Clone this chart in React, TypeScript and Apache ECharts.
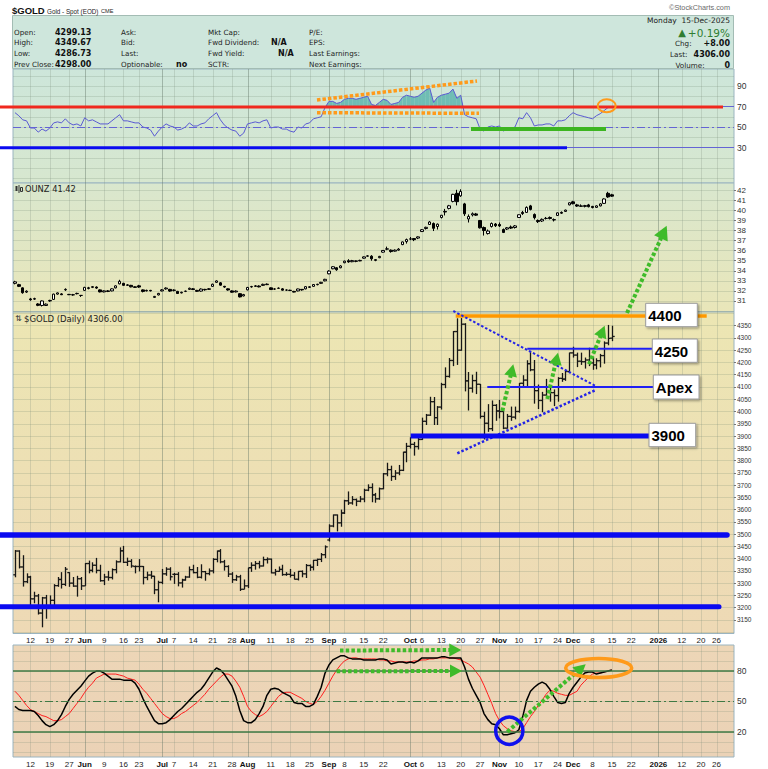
import React, { useEffect, useRef } from "react";
import * as echarts from "echarts";

// ---------- calendar (trading sessions) ----------
const firstSession = "2025-05-06";
const lastSession = "2026-01-30";
const marketHolidays = ["2025-05-26", "2025-06-19", "2025-07-04", "2025-09-01", "2025-11-27", "2025-12-25", "2026-01-01", "2026-01-19"];

function buildSessions(): string[] {
  const out: string[] = [];
  const d = new Date(firstSession + "T00:00:00Z");
  const end = new Date(lastSession + "T00:00:00Z");
  while (d <= end) {
    const wd = d.getUTCDay();
    const s = d.toISOString().slice(0, 10);
    if (wd !== 0 && wd !== 6 && !marketHolidays.includes(s)) out.push(s);
    d.setUTCDate(d.getUTCDate() + 1);
  }
  return out;
}
const sessions = buildSessions();

// ---------- tick labels ----------
const weekTicks: [string, string][] = [
  ["2025-05-12", "12"], ["2025-05-19", "19"], ["2025-05-27", "27"], ["2025-06-09", "9"], ["2025-06-16", "16"], ["2025-06-23", "23"],
  ["2025-07-07", "7"], ["2025-07-14", "14"], ["2025-07-21", "21"], ["2025-07-28", "28"], ["2025-08-11", "11"], ["2025-08-18", "18"],
  ["2025-08-25", "25"], ["2025-09-08", "8"], ["2025-09-15", "15"], ["2025-09-22", "22"], ["2025-10-06", "6"], ["2025-10-13", "13"],
  ["2025-10-20", "20"], ["2025-10-27", "27"], ["2025-11-10", "10"], ["2025-11-17", "17"], ["2025-11-24", "24"], ["2025-12-08", "8"],
  ["2025-12-15", "15"], ["2025-12-22", "22"], ["2026-01-12", "12"], ["2026-01-20", "20"], ["2026-01-26", "26"],
];
const monthTicks: [string, string][] = [
  ["2025-06-02", "Jun"], ["2025-07-01", "Jul"], ["2025-08-01", "Aug"], ["2025-09-02", "Sep"],
  ["2025-10-01", "Oct"], ["2025-11-03", "Nov"], ["2025-12-01", "Dec"], ["2026-01-02", "2026"],
];
const rsiTickLabels = [30, 50, 70, 90];
const stochTickLabels = [20, 50, 80];

// ---------- $GOLD daily OHLC ----------
const goldOpen = [
  3334, 3431, 3366, 3306, 3325, 3236, 3248, 3178, 3240, 3202,
  3230, 3290, 3315, 3295, 3343, 3300, 3288, 3318, 3289, 3380,
  3352, 3373, 3352, 3310, 3325, 3323, 3355, 3387, 3432, 3385,
  3389, 3368, 3368, 3368, 3323, 3333, 3328, 3273, 3303, 3338,
  3357, 3336, 3336, 3301, 3313, 3325, 3355, 3343, 3324, 3347,
  3339, 3350, 3397, 3431, 3387, 3368, 3337, 3314, 3326, 3275,
  3289, 3363, 3373, 3380, 3370, 3396, 3398, 3342, 3348, 3356,
  3335, 3336, 3332, 3316, 3348, 3338, 3372, 3365, 3393, 3397,
  3416, 3476, 3533, 3578, 3546, 3586, 3636, 3627, 3641, 3634,
  3643, 3679, 3690, 3660, 3644, 3685, 3746, 3763, 3735, 3749,
  3760, 3834, 3858, 3866, 3857, 3886, 3960, 3985, 4040, 3975,
  4018, 4110, 4143, 4208, 4326, 4250, 4356, 4125, 4095, 4126,
  4111, 3980, 3952, 3930, 4025, 4002, 4000, 3932, 3980, 3977,
  4000, 4115, 4128, 4195, 4170, 4085, 4045, 4067, 4078, 4077,
  4065, 4135, 4132, 4163, 4239, 4230, 4205, 4203, 4210, 4198,
  4190, 4207, 4228, 4279, 4299.13,
];
const goldHigh = [
  3435, 3434, 3414, 3340, 3330, 3265, 3256, 3244, 3252, 3250,
  3296, 3325, 3345, 3366, 3345, 3325, 3330, 3325, 3382, 3392,
  3385, 3403, 3375, 3338, 3350, 3360, 3393, 3446, 3452, 3404,
  3398, 3372, 3398, 3370, 3347, 3350, 3330, 3310, 3358, 3365,
  3365, 3342, 3345, 3318, 3330, 3368, 3375, 3366, 3377, 3350,
  3360, 3402, 3433, 3439, 3395, 3373, 3345, 3334, 3334, 3315,
  3363, 3385, 3390, 3391, 3408, 3405, 3400, 3358, 3368, 3375,
  3345, 3358, 3345, 3350, 3352, 3378, 3376, 3395, 3400, 3423,
  3454, 3540, 3580, 3580, 3600, 3640, 3674, 3655, 3645, 3655,
  3685, 3703, 3707, 3668, 3690, 3749, 3791, 3779, 3761, 3782,
  3836, 3872, 3895, 3876, 3895, 3975, 3990, 4060, 4059, 4022,
  4117, 4180, 4218, 4328, 4380, 4381, 4360, 4161, 4150, 4162,
  4112, 3999, 4030, 4045, 4030, 4047, 4010, 3990, 4020, 4020,
  4116, 4148, 4209, 4245, 4210, 4110, 4080, 4133, 4100, 4090,
  4140, 4157, 4170, 4240, 4264, 4240, 4240, 4220, 4260, 4222,
  4217, 4235, 4286, 4353, 4349.67,
];
const goldLow = [
  3324, 3360, 3286, 3300, 3208, 3218, 3172, 3120, 3155, 3200,
  3208, 3285, 3278, 3288, 3285, 3285, 3245, 3272, 3289, 3340,
  3344, 3340, 3306, 3292, 3310, 3315, 3340, 3385, 3382, 3370,
  3363, 3340, 3348, 3295, 3312, 3318, 3255, 3222, 3296, 3330,
  3311, 3297, 3287, 3282, 3310, 3322, 3340, 3320, 3319, 3310,
  3332, 3340, 3385, 3381, 3351, 3325, 3301, 3309, 3268, 3275,
  3280, 3346, 3355, 3360, 3368, 3380, 3340, 3331, 3346, 3330,
  3330, 3323, 3315, 3311, 3324, 3321, 3350, 3352, 3370, 3386,
  3402, 3470, 3528, 3511, 3530, 3582, 3619, 3620, 3614, 3630,
  3630, 3675, 3630, 3628, 3640, 3683, 3736, 3717, 3721, 3740,
  3757, 3793, 3849, 3820, 3845, 3884, 3945, 3982, 3945, 3945,
  4008, 4095, 4138, 4185, 4190, 4248, 4082, 4004, 4077, 4071,
  3971, 3886, 3917, 3920, 3962, 3972, 3928, 3930, 3962, 3968,
  3995, 4100, 4100, 4164, 4032, 4010, 3997, 4062, 4040, 4022,
  4040, 4121, 4125, 4156, 4220, 4181, 4190, 4175, 4185, 4170,
  4172, 4180, 4195, 4270, 4286.73,
];
const goldClose = [
  3431, 3366, 3306, 3325, 3236, 3248, 3178, 3240, 3202, 3230,
  3290, 3315, 3295, 3357, 3300, 3288, 3318, 3289, 3380, 3352,
  3373, 3352, 3310, 3325, 3323, 3355, 3387, 3432, 3385, 3389,
  3370, 3368, 3368, 3323, 3333, 3328, 3273, 3303, 3338, 3357,
  3326, 3336, 3301, 3313, 3325, 3355, 3343, 3324, 3347, 3339,
  3350, 3397, 3431, 3387, 3368, 3337, 3314, 3326, 3275, 3289,
  3363, 3373, 3380, 3370, 3396, 3398, 3342, 3348, 3356, 3335,
  3336, 3332, 3316, 3348, 3338, 3372, 3365, 3393, 3397, 3416,
  3448, 3533, 3578, 3546, 3586, 3636, 3627, 3641, 3634, 3643,
  3679, 3690, 3660, 3644, 3685, 3746, 3763, 3735, 3749, 3760,
  3834, 3858, 3866, 3857, 3886, 3960, 3985, 4040, 3975, 4018,
  4110, 4143, 4208, 4326, 4250, 4356, 4125, 4095, 4126, 4111,
  3980, 3952, 3930, 4025, 4002, 4000, 3932, 3980, 3977, 4000,
  4115, 4128, 4195, 4170, 4085, 4045, 4067, 4078, 4077, 4065,
  4135, 4132, 4163, 4239, 4230, 4205, 4203, 4210, 4198, 4190,
  4207, 4228, 4279, 4298, 4306,
];

// ---------- OUNZ candles [open, close, low, high] ----------
const ounzCandles = [
  [32.75, 32.9, 32.65, 33.0], [32.62, 32.45, 32.38, 32.7], [32.3, 31.82, 31.72, 32.35], [31.88, 31.97, 31.8, 32.05], [31.2, 31.12, 31.02, 31.3],
  [31.18, 31.23, 31.1, 31.32], [30.7, 30.56, 30.48, 30.78], [30.55, 31.0, 30.45, 31.05], [30.55, 30.68, 30.5, 30.75], [31.0, 31.05, 30.92, 31.12],
  [31.15, 31.68, 31.1, 31.72], [31.68, 31.8, 31.62, 31.85], [31.7, 31.62, 31.58, 31.78], [32.1, 32.15, 32.0, 32.25], [31.65, 31.62, 31.58, 31.7],
  [31.6, 31.62, 31.52, 31.7], [31.72, 31.75, 31.65, 31.82], [31.55, 31.55, 31.4, 31.58], [32.05, 32.35, 32.0, 32.4], [32.3, 32.25, 32.15, 32.4],
  [32.35, 32.42, 32.28, 32.48], [32.38, 32.28, 32.2, 32.45], [32.1, 31.9, 31.85, 32.15], [31.9, 32.0, 31.85, 32.05], [32.0, 31.95, 31.88, 32.08],
  [32.0, 32.2, 31.95, 32.25], [32.3, 32.5, 32.25, 32.55], [32.7, 32.95, 32.65, 33.1], [32.75, 32.55, 32.5, 32.8], [32.55, 32.6, 32.5, 32.68],
  [32.55, 32.4, 32.35, 32.6], [32.4, 32.35, 32.3, 32.45], [32.5, 32.38, 32.3, 32.6], [32.1, 31.95, 31.85, 32.15], [32.0, 32.05, 31.95, 32.12],
  [32.05, 32.0, 31.95, 32.1], [31.35, 31.45, 31.3, 31.5], [31.6, 31.75, 31.55, 31.8], [32.0, 32.1, 31.95, 32.18], [32.2, 32.28, 32.12, 32.35],
  [32.15, 31.98, 31.9, 32.2], [32.05, 32.08, 31.95, 32.15], [31.95, 31.74, 31.7, 32.0], [31.8, 31.86, 31.75, 31.92], [31.95, 31.97, 31.88, 32.03],
  [32.15, 32.26, 32.1, 32.32], [32.2, 32.14, 32.08, 32.28], [32.05, 31.96, 31.9, 32.1], [31.98, 32.18, 31.92, 32.25], [32.15, 32.11, 32.02, 32.2],
  [32.15, 32.21, 32.1, 32.28], [32.45, 32.66, 32.4, 32.72], [32.85, 32.99, 32.8, 33.05], [32.8, 32.57, 32.52, 32.88], [32.45, 32.38, 32.3, 32.5],
  [32.2, 32.09, 32.02, 32.25], [32.0, 31.87, 31.82, 32.05], [31.9, 31.98, 31.85, 32.05], [31.72, 31.4, 31.35, 31.78], [31.5, 31.63, 31.45, 31.7],
  [32.1, 32.34, 32.05, 32.4], [32.4, 32.43, 32.32, 32.5], [32.45, 32.5, 32.4, 32.58], [32.48, 32.4, 32.35, 32.55], [32.55, 32.65, 32.5, 32.72],
  [32.62, 32.67, 32.58, 32.74], [32.3, 32.13, 32.1, 32.35], [32.18, 32.19, 32.1, 32.26], [32.25, 32.27, 32.2, 32.35], [32.2, 32.07, 32.02, 32.28],
  [32.08, 32.08, 32.02, 32.14], [32.06, 32.04, 31.98, 32.12], [31.95, 31.88, 31.85, 32.0], [32.0, 32.19, 31.95, 32.22], [32.15, 32.1, 32.02, 32.18],
  [32.2, 32.42, 32.15, 32.46], [32.4, 32.36, 32.3, 32.45], [32.45, 32.63, 32.4, 32.66], [32.62, 32.66, 32.55, 32.7], [32.75, 32.85, 32.7, 32.9],
  [33.0, 33.15, 32.95, 33.2], [33.7, 33.97, 33.65, 34.05], [34.2, 34.4, 34.15, 34.45], [34.3, 34.1, 34.0, 34.35], [34.3, 34.48, 34.25, 34.55],
  [34.8, 34.96, 34.75, 35.0], [35.0, 34.88, 34.8, 35.15], [34.9, 35.01, 34.85, 35.08], [34.98, 34.94, 34.85, 35.02], [34.98, 35.03, 34.95, 35.1],
  [35.25, 35.38, 35.2, 35.42], [35.45, 35.48, 35.4, 35.55], [35.45, 35.19, 35.0, 35.55], [35.1, 35.04, 34.95, 35.15], [35.3, 35.43, 35.25, 35.48],
  [35.85, 36.02, 35.8, 36.05], [36.15, 36.18, 36.05, 36.4], [36.05, 35.91, 35.8, 36.12], [35.95, 36.05, 35.9, 36.12], [36.05, 36.15, 36.0, 36.25],
  [36.6, 36.87, 36.55, 36.9], [36.9, 37.1, 36.7, 37.2], [37.15, 37.17, 37.05, 37.35], [37.2, 37.09, 36.95, 37.25], [37.25, 37.37, 37.15, 37.42],
  [37.9, 38.08, 37.85, 38.15], [38.2, 38.32, 38.1, 38.38], [38.6, 38.85, 38.55, 38.95], [38.7, 38.22, 37.95, 38.8], [38.4, 38.63, 38.1, 38.7],
  [39.3, 39.52, 39.2, 39.55], [39.9, 39.84, 39.5, 40.15], [40.2, 40.46, 40.1, 40.55], [40.9, 41.6, 40.8, 41.65], [41.7, 40.87, 40.5, 42.05],
  [41.45, 41.88, 41.35, 42.1], [40.65, 39.66, 39.45, 40.75], [39.15, 39.4, 38.8, 39.6], [39.55, 39.67, 39.4, 39.8], [39.65, 39.53, 39.45, 39.75],
  [39.0, 38.27, 38.2, 39.05], [38.3, 38.0, 37.5, 38.4], [37.7, 37.95, 37.6, 38.1], [38.4, 38.7, 38.3, 38.8], [38.65, 38.48, 38.35, 38.75],
  [38.6, 38.46, 38.35, 38.8], [38.1, 37.81, 37.75, 38.2], [38.15, 38.27, 38.05, 38.35], [38.35, 38.24, 38.15, 38.5], [38.3, 38.46, 38.2, 38.55],
  [39.3, 39.57, 39.25, 39.6], [39.8, 39.69, 39.55, 39.95], [39.8, 40.3, 39.75, 40.4], [40.45, 40.1, 40.0, 40.55], [39.6, 39.28, 39.1, 39.7],
  [39.0, 38.89, 38.75, 39.1], [38.95, 39.11, 38.85, 39.2], [39.2, 39.21, 39.1, 39.35], [39.3, 39.2, 39.1, 39.4], [39.05, 39.09, 38.9, 39.2],
  [39.5, 39.76, 39.45, 39.8], [39.8, 39.73, 39.65, 39.9], [39.9, 40.03, 39.85, 40.08], [40.55, 40.76, 40.5, 40.8], [40.85, 40.67, 40.6, 40.95],
  [40.55, 40.43, 40.35, 40.65], [40.45, 40.41, 40.35, 40.6], [40.4, 40.48, 40.3, 40.55], [40.55, 40.37, 40.3, 40.65], [40.4, 40.29, 40.2, 40.45],
  [40.3, 40.45, 40.25, 40.5], [40.45, 40.65, 40.4, 40.72], [40.7, 41.14, 40.65, 41.2], [41.7, 41.34, 41.25, 41.85], [41.55, 41.42, 41.35, 41.65],
];

// ---------- RSI(14) ----------
const rsi14 = [
  64, 61, 57, 56, 49, 49, 45, 48, 46, 49,
  54, 55, 54, 58, 54, 52, 53, 51, 59, 56,
  57, 55, 53, 53, 53, 56, 59, 62, 56, 56,
  55, 54, 54, 50, 49, 47, 41, 46, 50, 53,
  51, 50, 47, 48, 50, 54, 51, 51, 53, 54,
  58, 61, 64, 57, 52, 49, 47, 46, 41, 44,
  53, 54, 55, 54, 56, 57, 49, 50, 50, 48,
  48, 46, 45, 50, 49, 53, 54, 58, 59, 60,
  69, 75, 75, 73, 74, 77, 78, 78, 77, 78,
  79, 80, 72, 71, 74, 77, 76, 72, 73, 74,
  79, 81, 80, 79, 80, 83, 86, 88, 74, 79,
  81, 82, 83, 87, 78, 81, 62, 60, 59, 58,
  48, 46, 50, 51, 50, 51, 46, 48, 48, 50,
  59, 58, 64, 59, 51, 52, 52, 53, 53, 51,
  56, 56, 57, 61, 64, 62, 61, 60, 59, 58,
  61, 63, 66, 69, 70,
];

// ---------- Slow Stochastic %K / %D ----------
const stochK = [
  45, 42, 41, 41, 41, 40, 36, 31, 27, 25,
  27, 31, 37, 45, 52, 57, 61, 65, 70, 75,
  78, 80, 80, 78, 75, 72, 72, 72, 71, 71,
  71, 68, 62, 53, 45, 38, 31, 28, 28, 29,
  32, 36, 40, 43, 47, 51, 55, 59, 62, 67,
  73, 79, 83, 81, 77, 71, 65, 55, 41, 31,
  29, 29, 32, 38, 45, 56, 62, 63, 62, 59,
  57, 55, 49, 48, 48, 45, 45, 47, 55, 64,
  78, 86, 91, 93, 95, 95, 93, 92, 92, 92,
  91, 91, 91, 91, 92, 92, 91, 87, 88, 89,
  89, 88, 89, 88, 90, 93, 93, 93, 93, 93,
  94, 94, 93, 93, 93, 93, 84, 72, 63, 56,
  49, 38, 32, 28, 27, 23, 17, 17, 18, 19,
  22, 35, 51, 60, 64, 67, 69, 67, 62, 55,
  49, 48, 49, 58, 64, 69, 74, 78, 79, 79,
  77, 78, 79, 80, 81,
];
const stochD = [
  60, 56, 51, 46, 42, 40, 38, 36, 35, 33,
  31, 31, 32, 35, 38, 43, 48, 53, 59, 64,
  68, 73, 75, 77, 77, 77, 77, 76, 75, 73,
  72, 71, 67, 62, 58, 53, 48, 43, 38, 35,
  33, 33, 35, 38, 40, 43, 46, 49, 53, 57,
  62, 66, 70, 74, 77, 77, 75, 70, 64, 55,
  45, 40, 37, 35, 37, 40, 45, 50, 55, 58,
  59, 59, 57, 55, 53, 50, 48, 47, 50, 55,
  61, 68, 75, 81, 86, 90, 92, 93, 93, 92,
  92, 92, 92, 92, 91, 91, 90, 90, 89, 89,
  89, 89, 89, 90, 90, 91, 91, 92, 92, 93,
  93, 93, 93, 93, 92, 91, 89, 87, 84, 79,
  74, 66, 57, 48, 38, 31, 26, 23, 21, 20,
  20, 23, 29, 35, 40, 46, 51, 57, 61, 60,
  58, 57, 56, 56, 58, 60, 66, 70, 74, 77,
  78, 78, 79, 80, 81,
];

// ---------- styling helpers ----------
const ARIAL = "'Liberation Sans', Arial, sans-serif";
const DV = "'DejaVu Sans', Verdana, sans-serif";
const H_GRID = "rgba(115,135,115,0.22)";

const G = (el: any) => ({ z: 100, silent: true, ...el });
function seg(x1: number, y1: number, x2: number, y2: number, stroke: string, lineWidth: number, dash?: number[], cap: string = "butt") {
  const style: any = { stroke, lineWidth, lineCap: cap };
  if (dash) style.lineDash = dash;
  return G({ type: "line", shape: { x1, y1, x2, y2 }, style });
}
function txt(x: number, y: number, text: string, font: string, fill = "#222", align = "left") {
  return G({ type: "text", x, y, style: { text, font, fill, textAlign: align, textVerticalAlign: "middle" } });
}
function dottedArrow(x1: number, y1: number, x2: number, y2: number, hl = 12, hw = 6.5) {
  const color = "#3fbb2a";
  const dx = x2 - x1, dy = y2 - y1, len = Math.hypot(dx, dy), ux = dx / len, uy = dy / len;
  const bx = x2 - ux * hl, by = y2 - uy * hl;
  return [
    seg(x1, y1, bx + ux, by + uy, color, 4, [3.5, 2.2]),
    G({ type: "polygon", shape: { points: [[x2, y2], [bx - uy * hw, by + ux * hw], [bx + uy * hw, by - ux * hw]] }, style: { fill: color } }),
  ];
}
function levelBox(x: number, y: number, w: number, h: number, label: string) {
  return [
    G({ type: "rect", shape: { x, y, width: w, height: h }, style: { fill: "#ffffff", stroke: "#9a9a9a", lineWidth: 1, shadowBlur: 2, shadowColor: "rgba(0,0,0,0.35)", shadowOffsetX: 1.5, shadowOffsetY: 1.5 } }),
    txt(x + 2.5, y + h / 2 + 0.5, label, `bold 15px ${ARIAL}`, "#000"),
  ];
}

function buildOption() {
  const tickText: Record<string, { t: string; b: boolean }> = {};
  weekTicks.forEach(([d, t]) => (tickText[d] = { t, b: false }));
  monthTicks.forEach(([d, t]) => (tickText[d] = { t, b: true }));
  const gridTicks = [
    ...weekTicks.map(([d]) => [sessions.indexOf(d), 0]),
    ...monthTicks.map(([d]) => [sessions.indexOf(d), 1]),
  ];

  const panels = [
    { bg: { top: 69, height: 114 }, data: { top: 75.75, height: 102.5 }, grad: ["#cde6da", "#d7e7cf"] },
    { bg: { top: 183, height: 129 }, data: { top: 190.3, height: 120.7 }, grad: ["#d9e7ce", "#e9e6b9"] },
    { bg: { top: 312, height: 321.5 }, data: { top: 313.4, height: 318.8 }, grad: ["#ece6b3", "#eed9b5"] },
    { bg: { top: 645, height: 112 }, data: { top: 650.8, height: 101.2 }, grad: ["#edd6b7", "#ebd2b6"] },
  ];
  const grid: any[] = [];
  panels.forEach((p) => {
    grid.push({
      left: 13, width: 721, top: p.bg.top, height: p.bg.height, show: true, containLabel: false, outerBoundsMode: "none",
      backgroundColor: new echarts.graphic.LinearGradient(0, 0, 0, 1, [{ offset: 0, color: p.grad[0] }, { offset: 1, color: p.grad[1] }]),
      borderColor: "#9ab4c0", borderWidth: 1,
    });
    grid.push({ left: 13, width: 721, top: p.data.top, height: p.data.height, show: false, containLabel: false, outerBoundsMode: "none" });
  });

  const dateLabel = {
    show: true,
    interval: (_i: number, v: string) => !!tickText[v],
    formatter: (v: string) => (tickText[v] ? (tickText[v].b ? `{m|${tickText[v].t}}` : `{d|${tickText[v].t}}`) : ""),
    margin: 3,
    rich: {
      m: { fontWeight: "bold", fontSize: 8, fontFamily: ARIAL, color: "#111" },
      d: { fontSize: 8, fontFamily: ARIAL, color: "#222" },
    },
  };
  const xAxis = [0, 1, 2, 3, 4, 5, 6, 7].map((k) => ({
    type: "category", gridIndex: k, data: sessions, boundaryGap: true,
    axisLine: { show: false }, axisTick: { show: false }, splitLine: { show: false },
    axisLabel: k === 4 || k === 6 ? dateLabel : { show: false },
  }));

  const lab = (size: number) => ({ fontSize: size, fontFamily: ARIAL, color: "#333", margin: 3 });
  const plain = (v: number) => String(v);
  const yAxis: any[] = [
    { type: "value", gridIndex: 0, min: 0, max: 1, show: false },
    {
      type: "value", gridIndex: 1, min: 0, max: 100, interval: 10, position: "right",
      axisLine: { show: false }, axisTick: { show: false }, splitLine: { show: true, lineStyle: { color: H_GRID } },
      axisLabel: { ...lab(8.5), formatter: (v: number) => (rsiTickLabels.includes(v) ? String(v) : "") },
    },
    { type: "value", gridIndex: 2, min: 0, max: 1, show: false },
    {
      type: "value", gridIndex: 3, min: 30, max: 42, interval: 1, position: "right",
      axisLine: { show: false }, axisTick: { show: true, length: 2, lineStyle: { color: "#777" } },
      splitLine: { show: true, lineStyle: { color: H_GRID } },
      axisLabel: { ...lab(8), showMinLabel: false, formatter: plain },
    },
    { type: "value", gridIndex: 4, min: 0, max: 1, show: false },
    {
      type: "value", gridIndex: 5, min: 3100, max: 4400, interval: 50, position: "right",
      axisLine: { show: false }, axisTick: { show: true, length: 2, lineStyle: { color: "#777" } },
      splitLine: { show: true, lineStyle: { color: H_GRID } },
      axisLabel: { ...lab(6.5), showMinLabel: false, showMaxLabel: false, formatter: plain },
    },
    { type: "value", gridIndex: 6, min: 0, max: 1, show: false },
    {
      type: "value", gridIndex: 7, min: 0, max: 100, interval: 10, position: "right",
      axisLine: { show: false }, axisTick: { show: false }, splitLine: { show: true, lineStyle: { color: H_GRID } },
      axisLabel: { ...lab(8.5), formatter: (v: number) => (stochTickLabels.includes(v) ? String(v) : "") },
    },
  ];

  const vlineRender = (params: any, api: any) => {
    const cs = params.coordSys;
    const x = Math.round(api.coord([api.value(0), 0])[0]) + 0.5;
    const strong = api.value(1) === 1;
    return {
      type: "line", shape: { x1: x, y1: cs.y, x2: x, y2: cs.y + cs.height },
      style: { stroke: strong ? "rgba(95,115,100,0.42)" : "rgba(120,140,120,0.24)", lineWidth: 1 },
    };
  };

  const rsiSegments = rsi14.slice(0, -1).map((v, i) => [i, v, rsi14[i + 1]]);
  const rsiFillRender = (_p: any, api: any) => {
    const i = api.value(0) as number;
    const v0 = api.value(1) as number, v1 = api.value(2) as number;
    const th = 70;
    if (v0 <= th && v1 <= th) return { type: "group", children: [] };
    const a = api.coord([i, v0]), b = api.coord([i + 1, v1]);
    const ya = api.coord([i, th])[1];
    let pts: number[][];
    if (v0 >= th && v1 >= th) pts = [[a[0], ya], a, b, [b[0], ya]];
    else if (v0 > th) {
      const t = (v0 - th) / (v0 - v1);
      pts = [[a[0], ya], a, [a[0] + t * (b[0] - a[0]), ya]];
    } else {
      const t = (th - v0) / (v1 - v0);
      pts = [[a[0] + t * (b[0] - a[0]), ya], b, [b[0], ya]];
    }
    return { type: "polygon", shape: { points: pts }, style: { fill: "#6fbdb4" } };
  };

  const goldRows = goldClose.map((c, i) => [i, goldOpen[i], goldHigh[i], goldLow[i], c]);
  const goldRender = (_p: any, api: any) => {
    const i = api.value(0);
    const pH = api.coord([i, api.value(2)]);
    const pL = api.coord([i, api.value(3)]);
    const pO = api.coord([i, api.value(1)]);
    const pC = api.coord([i, api.value(4)]);
    const x = Math.round(pH[0]) + 0.5;
    const st = { stroke: "#161616", lineWidth: 1.3 };
    return {
      type: "group",
      children: [
        { type: "line", shape: { x1: x, y1: pH[1], x2: x, y2: pL[1] }, style: st },
        { type: "line", shape: { x1: x - 2.2, y1: pO[1], x2: x, y2: pO[1] }, style: st },
        { type: "line", shape: { x1: x, y1: pC[1], x2: x + 2.2, y2: pC[1] }, style: st },
      ],
    };
  };

  const vlineSeries = [0, 2, 4, 6].map((k) => ({
    type: "custom", xAxisIndex: k, yAxisIndex: k, data: gridTicks, renderItem: vlineRender,
    encode: { x: 0, y: 1 }, silent: true, z: 1,
  }));

  const slate = "#6464d4";
  const green = "#3f7a44";
  const series: any[] = [
    ...vlineSeries,
    { type: "custom", xAxisIndex: 1, yAxisIndex: 1, data: rsiSegments, renderItem: rsiFillRender, encode: { x: 0, y: 1 }, silent: true, z: 2 },
    {
      type: "line", xAxisIndex: 1, yAxisIndex: 1, data: rsi14, symbol: "none", silent: true, z: 3,
      lineStyle: { color: "#5a5ad2", width: 1 },
      markLine: {
        silent: true, symbol: ["none", "none"], label: { show: false },
        data: [
          { yAxis: 70, lineStyle: { color: slate, width: 1, type: "solid" } },
          { yAxis: 30, lineStyle: { color: slate, width: 1, type: "solid" } },
          { yAxis: 50, lineStyle: { color: slate, width: 1, type: [8, 3, 2, 3] } },
        ],
      },
    },
    {
      type: "candlestick", xAxisIndex: 3, yAxisIndex: 3, data: ounzCandles, barWidth: 3, silent: true, z: 3,
      itemStyle: { color: "#ffffff", color0: "#000000", borderColor: "#000000", borderColor0: "#000000", borderWidth: 1 },
    },
    { type: "custom", xAxisIndex: 5, yAxisIndex: 5, data: goldRows, renderItem: goldRender, encode: { x: 0, y: [1, 2, 3, 4] }, silent: true, z: 3 },
    {
      type: "line", xAxisIndex: 7, yAxisIndex: 7, data: stochK, symbol: "none", silent: true, z: 4,
      lineStyle: { color: "#000000", width: 1.5 },
      markLine: {
        silent: true, symbol: ["none", "none"], label: { show: false },
        data: [
          { yAxis: 80, lineStyle: { color: green, width: 1.5, type: "solid" } },
          { yAxis: 20, lineStyle: { color: green, width: 1.5, type: "solid" } },
          { yAxis: 50, lineStyle: { color: green, width: 1, type: [8, 3, 2, 3] } },
        ],
      },
    },
    { type: "line", xAxisIndex: 7, yAxisIndex: 7, data: stochD, symbol: "none", silent: true, z: 3, lineStyle: { color: "#ff1e1e", width: 1 } },
  ];

  // ---------- header & annotations ----------
  const labF = `7.2px ${DV}`;
  const valF = `bold 8px ${DV}`;
  const rows = [32, 42.7, 53.3, 64];
  const graphics: any[] = [
    G({ type: "rect", z: 50, shape: { x: 12.5, y: 15.5, width: 721, height: 53 }, style: { fill: "#cee6dc", stroke: "#a3bcb4", lineWidth: 1 } }),
    txt(12, 10.5, "$GOLD", `bold 9.5px ${ARIAL}`, "#111"),
    txt(47, 11, "Gold - Spot (EOD)", `6.3px ${ARIAL}`, "#222"),
    txt(101, 11, "CME", `5.6px ${ARIAL}`, "#222"),
    txt(730, 7, "\u00A9StockCharts.com", `7.3px ${ARIAL}`, "#6a6a6a", "right"),
    txt(14, rows[0], "Open:", labF), txt(14, rows[1], "High:", labF), txt(14, rows[2], "Low:", labF), txt(14, rows[3], "Prev Close:", labF),
    txt(55, rows[0], "4299.13", valF, "#111"), txt(55, rows[1], "4349.67", valF, "#111"), txt(55, rows[2], "4286.73", valF, "#111"), txt(55, rows[3], "4298.00", valF, "#111"),
    txt(121, rows[0], "Ask:", labF), txt(121, rows[1], "Bid:", labF), txt(121, rows[2], "Last:", labF), txt(121, rows[3], "Optionable:", labF),
    txt(176, rows[3], "no", valF, "#111"),
    txt(208, rows[0], "Mkt Cap:", labF), txt(208, rows[1], "Fwd Dividend:", labF), txt(208, rows[2], "Fwd Yield:", labF), txt(208, rows[3], "SCTR:", labF),
    txt(271, rows[1], "N/A", valF, "#111"), txt(278, rows[2], "N/A", valF, "#111"),
    txt(309, rows[0], "P/E:", labF), txt(309, rows[1], "EPS:", labF), txt(309, rows[2], "Last Earnings:", labF), txt(309, rows[3], "Next Earnings:", labF),
    txt(730, 20, "Monday  15-Dec-2025", `7.5px ${DV}`, "#222", "right"),
    txt(682, 32, "\u25B2", `10px ${DV}`, "#2f7d32", "center"),
    txt(730, 32.5, "+0.19%", `10.5px ${DV}`, "#2f7d32", "right"),
    txt(675, 43, "Chg:", labF), txt(730, 43, "+8.00", valF, "#111", "right"),
    txt(670, 54, "Last:", labF), txt(730, 54, "4306.00", valF, "#111", "right"),
    txt(675.5, 65, "Volume:", labF), txt(730, 65, "0", valF, "#111", "right"),

    // panel labels
    G({ type: "rect", shape: { x: 15.5, y: 186, width: 2, height: 5 }, style: { fill: "#333" } }),
    seg(19, 185, 19, 193, "#333", 1),
    G({ type: "rect", shape: { x: 20.5, y: 187.5, width: 2, height: 4 }, style: { fill: "none", stroke: "#333", lineWidth: 1 } }),
    txt(25, 189, "OUNZ 41.42", `8.3px ${DV}`, "#222"),
    txt(15, 318.5, "\u21C5", `8px ${DV}`, "#333"),
    txt(24, 318.5, "$GOLD (Daily) 4306.00", `8.5px ${DV}`, "#222"),

    // RSI panel annotations
    seg(0, 107, 723, 107, "#f0281e", 3),
    seg(0, 147.7, 567, 147.7, "#0a0af0", 3),
    seg(317, 100, 477, 81, "#ff9a1a", 3.5, [3.5, 2]),
    seg(317, 112.7, 479, 113.3, "#ff9a1a", 3.5, [3.5, 2]),
    seg(471, 129, 606, 129, "#3cb521", 4),
    G({ type: "ellipse", shape: { cx: 606.7, cy: 105.8, rx: 9, ry: 6.5 }, style: { fill: "none", stroke: "#ff9a1a", lineWidth: 2 } }),

    // main panel annotations
    ...dottedArrow(627, 313, 666.7, 225.7, 14, 7.5),
    seg(455.7, 316, 706.7, 316, "#ff9900", 3.5),
    seg(453.3, 311, 595.7, 386, "#2323e6", 2, [2.5, 2]),
    seg(457.3, 453.3, 595.7, 390, "#2323e6", 2.5, [2.5, 2]),
    seg(527.3, 348.7, 652, 348.7, "#1f1ff5", 2),
    seg(487.3, 387, 653, 387, "#1f1ff5", 2),
    seg(410.7, 436, 649, 436, "#0a0af0", 5),
    seg(0, 535, 727, 535, "#0a0af0", 5.5, undefined, "round"),
    seg(0, 606.7, 719, 606.7, "#0a0af0", 5, undefined, "round"),
    ...dottedArrow(502.3, 411, 513.3, 364.3),
    ...dottedArrow(547.3, 399, 558, 352.7),
    ...dottedArrow(589, 364.3, 604.7, 325.7),
    ...levelBox(645.7, 303.3, 51.6, 23.4, "4400"),
    ...levelBox(652.3, 339, 45, 23.3, "4250"),
    ...levelBox(653.3, 375, 45.7, 24, "Apex"),
    ...levelBox(649, 423.3, 46.7, 23.4, "3900"),

    // stochastic panel annotations
    ...dottedArrow(340, 650.5, 461.3, 650),
    ...dottedArrow(336.7, 671.3, 462, 671),
    ...dottedArrow(507.3, 731.7, 585.7, 664.3),
    G({ type: "circle", shape: { cx: 509.3, cy: 730.8, r: 13.6 }, style: { fill: "none", stroke: "#1010ee", lineWidth: 3.5 } }),
    G({ type: "ellipse", shape: { cx: 598.7, cy: 668, rx: 33, ry: 9.6 }, style: { fill: "none", stroke: "#ff9a1a", lineWidth: 3.5 } }),
  ];

  return {
    animation: false,
    backgroundColor: "#ffffff",
    grid,
    xAxis,
    yAxis,
    series,
    graphic: { elements: graphics },
  };
}

export default function App() {
  const ref = useRef<HTMLDivElement>(null);
  useEffect(() => {
    document.body.style.margin = "0";
    const chart = echarts.init(ref.current!, null, { renderer: "svg" });
    chart.setOption(buildOption() as any);
    return () => chart.dispose();
  }, []);
  return <div ref={ref} style={{ width: 768, height: 769 }} />;
}
